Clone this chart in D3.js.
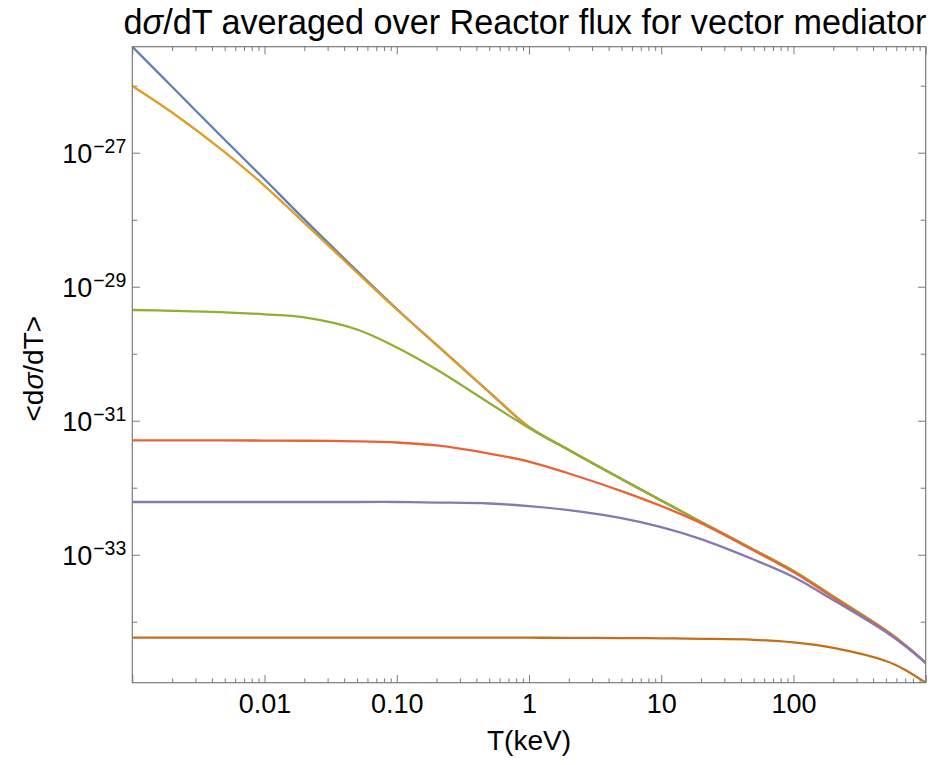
<!DOCTYPE html>
<html>
<head>
<meta charset="utf-8">
<script src="https://cdn.jsdelivr.net/npm/d3@7"></script>
<style>
  body { margin: 0; background: #fff; }
  svg text { font-family: 'Liberation Sans', Arial, Helvetica, sans-serif; fill: #000; }
</style>
</head>
<body>
<svg id="chart" width="940" height="765"></svg>
<script>
// recoil energy T (keV)
const energies = [0.001, 0.002, 0.005, 0.01, 0.02, 0.05, 0.1, 0.2, 0.5, 1, 2, 5, 10, 20, 50, 100, 200, 500, 700, 1000]

// <dsigma/dT>, one array per mediator curve
const curveBlue = [3.82e-26, 9.64e-27, 1.56e-27, 4.01e-28, 1.01e-28, 1.72e-29, 4.65e-30, 1.35e-30, 2.68e-31, 8.05e-32, 3.66e-32, 1.35e-32, 6.44e-33, 3.09e-33, 1.19e-33, 5.71e-34, 2.38e-34, 7.40e-35, 4.49e-35, 2.44e-35]
const curveOrange = [9.91e-27, 3.98e-27, 1.02e-27, 3.21e-28, 8.99e-29, 1.63e-29, 4.57e-30, 1.35e-30, 2.68e-31, 8.05e-32, 3.66e-32, 1.35e-32, 6.44e-33, 3.09e-33, 1.19e-33, 5.71e-34, 2.38e-34, 7.40e-35, 4.49e-35, 2.44e-35]
const curveGreen = [4.49e-30, 4.37e-30, 4.15e-30, 3.87e-30, 3.48e-30, 2.30e-30, 1.24e-30, 5.81e-31, 1.84e-31, 7.78e-32, 3.66e-32, 1.35e-32, 6.44e-33, 3.09e-33, 1.19e-33, 5.71e-34, 2.38e-34, 7.40e-35, 4.49e-35, 2.44e-35]
const curveRed = [5.09e-32, 5.09e-32, 5.08e-32, 5.06e-32, 5.02e-32, 4.93e-32, 4.73e-32, 4.27e-32, 3.24e-32, 2.46e-32, 1.63e-32, 8.91e-33, 5.33e-33, 2.96e-33, 1.16e-33, 5.52e-34, 2.30e-34, 7.26e-35, 4.45e-35, 2.44e-35]
const curvePurple = [6.12e-33, 6.12e-33, 6.12e-33, 6.12e-33, 6.12e-33, 6.12e-33, 6.12e-33, 6.01e-33, 5.81e-33, 5.33e-33, 4.63e-33, 3.52e-33, 2.58e-33, 1.71e-33, 8.47e-34, 4.65e-34, 2.11e-34, 7.01e-35, 4.34e-35, 2.44e-35]
const curveBrown = [5.77e-35, 5.77e-35, 5.77e-35, 5.77e-35, 5.77e-35, 5.77e-35, 5.77e-35, 5.77e-35, 5.77e-35, 5.77e-35, 5.75e-35, 5.71e-35, 5.65e-35, 5.56e-35, 5.37e-35, 4.90e-35, 4.06e-35, 2.59e-35, 1.91e-35, 1.23e-35]

const seriesValues = [curveBlue, curveOrange, curveGreen, curveRed, curvePurple, curveBrown]
const seriesColors = ['#5e81b5', '#e19c24', '#8fb032', '#eb6235', '#8778b3', '#c56e1a']

const xMajorTicks = [0.001, 0.01, 0.1, 1, 10, 100, 1000]
const xTickLabels = ['', '0.01', '0.10', '1', '10', '100', '']
const yDecades = [-26, -27, -28, -29, -30, -31, -32, -33, -34]
const yLabelExponents = [-27, -29, -31, -33]

const titleText = ['d', 'σ', '/dT averaged over Reactor flux for vector mediator']
const xTitle = 'T(keV)'
const yTitle = ['<d', 'σ', '/dT>']

const width = 940
const height = 765
const margin = { top: 46.7, right: 14.3, bottom: 82.3, left: 132.3 }
const frameColor = '#7a7a7a'

const svg = d3.select('#chart')

const x = d3
  .scaleLog()
  .domain(d3.extent(energies))
  .range([margin.left, width - margin.right])

const allValues = seriesValues.flat()
const y = d3
  .scaleLog()
  .domain(d3.extent(allValues))
  .range([height - margin.bottom, margin.top])

// minor ticks: 2..9 in every decade
const xMinorTicks = []
d3.range(-3, 3).forEach(p => {
  d3.range(2, 10).forEach(m => xMinorTicks.push(m * Math.pow(10, p)))
})

const styleAxis = g => {
  g.select('.domain').remove()
  g.selectAll('line').attr('stroke', frameColor).attr('stroke-width', 1)
}

// bottom axis
svg
  .append('g')
  .attr('transform', `translate(0,${height - margin.bottom})`)
  .call(d3.axisBottom(x).tickValues(xMinorTicks).tickSize(-4.3).tickFormat(''))
  .call(styleAxis)

svg
  .append('g')
  .attr('transform', `translate(0,${height - margin.bottom})`)
  .call(
    d3
      .axisBottom(x)
      .tickValues(xMajorTicks)
      .tickSize(-7.7)
      .tickPadding(11.5)
      .tickFormat((d, i) => xTickLabels[i])
  )
  .call(styleAxis)
  .call(g => g.selectAll('text').attr('font-size', 27).attr('fill', '#000'))

// top axis (mirror, no labels)
svg
  .append('g')
  .attr('transform', `translate(0,${margin.top})`)
  .call(d3.axisTop(x).tickValues(xMinorTicks).tickSize(-4.3).tickFormat(''))
  .call(styleAxis)

svg
  .append('g')
  .attr('transform', `translate(0,${margin.top})`)
  .call(d3.axisTop(x).tickValues(xMajorTicks).tickSize(-7.7).tickFormat(''))
  .call(styleAxis)

// left and right axes
const labelled = d => yLabelExponents.includes(Math.round(Math.log10(d)))
const yMajor = yDecades.map(p => Math.pow(10, p)).filter(labelled)
const yMinor = yDecades.map(p => Math.pow(10, p)).filter(d => !labelled(d))

;[
  [d3.axisLeft, margin.left],
  [d3.axisRight, width - margin.right]
].forEach(([axisFn, pos]) => {
  svg
    .append('g')
    .attr('transform', `translate(${pos},0)`)
    .call(axisFn(y).tickValues(yMajor).tickSize(-7.7).tickFormat(''))
    .call(styleAxis)
  svg
    .append('g')
    .attr('transform', `translate(${pos},0)`)
    .call(axisFn(y).tickValues(yMinor).tickSize(-5).tickFormat(''))
    .call(styleAxis)
})

// y tick labels 10^n
const yLabels = svg
  .append('g')
  .selectAll('text')
  .data(yLabelExponents)
  .join('text')
  .attr('x', margin.left - 6)
  .attr('y', d => y(Math.pow(10, d)) + 10.6)
  .attr('text-anchor', 'end')
  .attr('font-size', 27)

yLabels.append('tspan').text('10')
yLabels
  .append('tspan')
  .attr('font-size', 19.5)
  .attr('dy', -10.6)
  .attr('dx', 1)
  .text(d => `\u2212${Math.abs(d)}`)

// curves
svg
  .append('clipPath')
  .attr('id', 'plot-clip')
  .append('rect')
  .attr('x', margin.left)
  .attr('y', margin.top)
  .attr('width', width - margin.left - margin.right)
  .attr('height', height - margin.top - margin.bottom)

const line = d3
  .line()
  .x(d => x(d[0]))
  .y(d => y(d[1]))
  .curve(d3.curveCatmullRom.alpha(0.5))

svg
  .append('g')
  .attr('clip-path', 'url(#plot-clip)')
  .selectAll('path')
  .data(seriesValues)
  .join('path')
  .attr('fill', 'none')
  .attr('stroke', (d, i) => seriesColors[i])
  .attr('stroke-width', 2.3)
  .attr('stroke-linejoin', 'round')
  .attr('d', vals => line(energies.map((t, i) => [t, vals[i]])))

// frame
svg
  .append('rect')
  .attr('x', margin.left)
  .attr('y', margin.top)
  .attr('width', width - margin.left - margin.right)
  .attr('height', height - margin.top - margin.bottom)
  .attr('fill', 'none')
  .attr('stroke', frameColor)
  .attr('stroke-width', 1.2)

// title and axis titles
const title = svg
  .append('text')
  .attr('x', 525)
  .attr('y', 34)
  .attr('text-anchor', 'middle')
  .attr('font-size', 34.2)
title.append('tspan').text(titleText[0])
title.append('tspan').attr('font-style', 'italic').text(titleText[1])
title.append('tspan').text(titleText[2])

svg
  .append('text')
  .attr('x', (margin.left + width - margin.right) / 2)
  .attr('y', 750)
  .attr('text-anchor', 'middle')
  .attr('font-size', 28)
  .text(xTitle)

const yTitleText = svg
  .append('text')
  .attr('transform', `translate(43,${(margin.top + height - margin.bottom) / 2 + 4}) rotate(-90)`)
  .attr('text-anchor', 'middle')
  .attr('font-size', 28)
yTitleText.append('tspan').text(yTitle[0])
yTitleText.append('tspan').attr('font-style', 'italic').text(yTitle[1])
yTitleText.append('tspan').text(yTitle[2])
</script>
</body>
</html>
